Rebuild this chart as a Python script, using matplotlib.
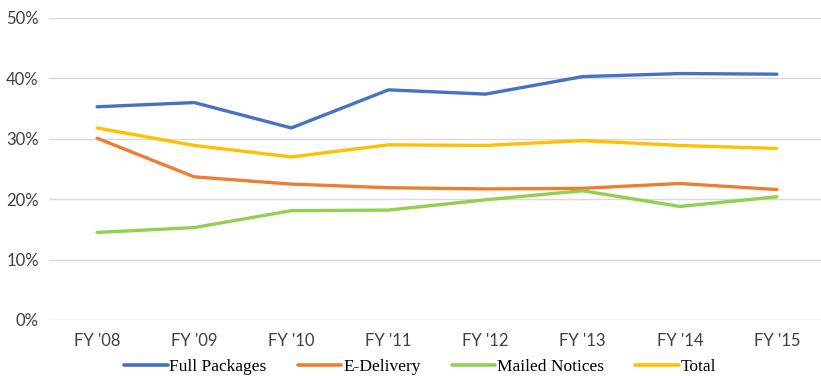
import matplotlib
matplotlib.use("Agg")
import matplotlib.pyplot as plt
from matplotlib.ticker import FuncFormatter

years = ["FY '08", "FY '09", "FY '10", "FY '11", "FY '12", "FY '13", "FY '14", "FY '15"]
full_packages = [35.3, 36.0, 31.8, 38.1, 37.4, 40.3, 40.8, 40.7]
e_delivery = [30.1, 23.7, 22.5, 21.9, 21.7, 21.8, 22.6, 21.6]
mailed_notices = [14.5, 15.3, 18.1, 18.2, 19.9, 21.4, 18.8, 20.4]
total = [31.8, 28.9, 27.0, 29.0, 28.9, 29.7, 28.9, 28.4]

series = [
    ("Full Packages", full_packages, "#4472C4"),
    ("E-Delivery", e_delivery, "#ED7D31"),
    ("Mailed Notices", mailed_notices, "#92D050"),
    ("Total", total, "#FFC000"),
]

fig = plt.figure(figsize=(8.21, 3.76), dpi=100)
ax = fig.add_axes([48.5 / 821, 1 - 320 / 376, 777 / 821, (320 - 18) / 376])

x = list(range(len(years)))
for name, vals, color in series:
    ax.plot(x, vals, color=color, lw=2.4, label=name, solid_capstyle="round", zorder=3)

ax.set_xlim(-0.5, len(years) - 0.5)
ax.set_ylim(0, 50)
ax.set_yticks(range(0, 51, 10))
ax.yaxis.set_major_formatter(FuncFormatter(lambda v, p: f"{int(v)}%"))
ax.set_xticks(x)
ax.set_xticklabels(years)
ax.grid(axis="y", color="#D9D9D9", lw=1.0, zorder=0)
ax.set_axisbelow(True)
for s in ax.spines.values():
    s.set_visible(False)
ax.tick_params(axis="both", length=0, labelsize=12, colors="#404040", labelcolor="#404040")
ax.tick_params(axis="y", pad=7)
ax.tick_params(axis="x", pad=9)
for lab in ax.get_xticklabels() + ax.get_yticklabels():
    lab.set_fontfamily("Lato")

leg = fig.legend(loc="center", bbox_to_anchor=(420 / 821, 1 - 367 / 376), ncol=4, frameon=False,
                 prop={"family": "Liberation Serif", "size": 12.5}, handlelength=2.5,
                 handletextpad=0.1, columnspacing=1.8)
for line in leg.get_lines():
    line.set_linewidth(2.6)

fig.savefig("out.png", dpi=100)
